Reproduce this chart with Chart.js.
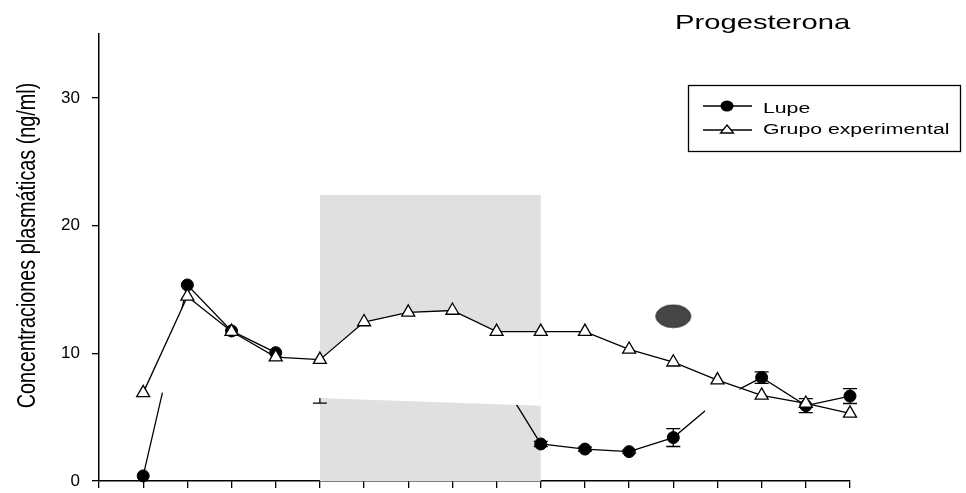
<!DOCTYPE html>
<html>
<head>
<meta charset="utf-8">
<script src="https://cdn.jsdelivr.net/npm/chart.js@4.4.1/dist/chart.umd.min.js"></script>
<style>
  body { margin: 0; background: #fff; }
  #wrap { width: 966px; height: 493px; }
</style>
</head>
<body>
<div id="wrap"><canvas id="progChart" width="966" height="493"></canvas></div>
<script>
// dias de muestreo (eje x sin etiquetas)
const dias = [1, 2, 3, 4, 5, 6, 7, 8, 9, 10, 11, 12, 13, 14, 15, 16, 17];
const grupo = [6.9, 14.45, 11.7, 9.7, 9.5, 12.45, 13.2, 13.35, 11.7, 11.7, 11.7, 10.3, 9.3, 7.9, 6.7, 6.07, 5.3];
const lupe = [0.4, 15.35, 11.75, 10.05, 7.2, null, null, null, 8.5, 2.9, 2.5, 2.3, 3.4, 6.3, 8.1, 5.9, 6.65];
const lupeErr = [0, 0, 0, 0, 1.1, 0, 0, 0, 0, 0.2, 0.15, 0.12, 0.7, 0, 0.45, 0.55, 0.58];
const lupeBorrados = [5, 9, 14];      // dias cuyo punto esta tapado en la figura
const yTicks = [0, 10, 20, 30];
const sombraX = [5, 10];
const sombraY = [0, 22.4];
// zonas tapadas en blanco: desde / hasta (dia) y borde inferior (ng/ml)
const borradoDesde = [1.2, 13.72];
const borradoHasta = [10, 14.5];
const borradoBase = [[6.95, 5.9], [0, 0]];
const marca = [{ x: 13, y: 12.9 }];

const FONT = '"Liberation Sans", Arial, sans-serif';
Chart.defaults.font.family = FONT;
Chart.defaults.color = '#000';

function interp(vals, x) {
  const i = Math.floor(x);
  const t = x - i;
  const a = vals[dias.indexOf(i)];
  if (t === 0) return a;
  const b = vals[dias.indexOf(i + 1)];
  return a + (b - a) * t;
}

function erasePath(chart) {
  const sx = chart.scales.x, sy = chart.scales.y;
  const p = new Path2D();
  p.rect(0, 0, chart.width, chart.height);
  borradoDesde.forEach(function (d, k) {
    const h = borradoHasta[k];
    const xs = [d].concat(dias.filter(v => v > d && v < h), [h]);
    const pts = xs.map(x => [sx.getPixelForValue(x), sy.getPixelForValue(interp(grupo, x))]);
    pts.push([sx.getPixelForValue(h), sy.getPixelForValue(borradoBase[k][1])]);
    pts.push([sx.getPixelForValue(d), sy.getPixelForValue(borradoBase[k][0])]);
    p.moveTo(pts[0][0], pts[0][1]);
    pts.slice(1).forEach(q => p.lineTo(q[0], q[1]));
    p.closePath();
  });
  return p;
}

// marca eliptica oscura
const elipse = document.createElement('canvas');
elipse.width = 38; elipse.height = 25;
(function () {
  const c = elipse.getContext('2d');
  c.beginPath();
  c.ellipse(19, 12.5, 17.5, 11.3, 0, 0, Math.PI * 2);
  c.fillStyle = '#464646';
  c.fill();
  c.lineWidth = 1;
  c.strokeStyle = '#2b2b2b';
  c.stroke();
})();

const LUPE_LINE = 2;

const figura = {
  id: 'figura',
  beforeDatasetsDraw(chart) {
    const ctx = chart.ctx, sx = chart.scales.x, sy = chart.scales.y;
    ctx.save();
    ctx.clip(erasePath(chart), 'evenodd');
    ctx.fillStyle = '#e0e0e0';
    const x0 = sx.getPixelForValue(sombraX[0]), x1 = sx.getPixelForValue(sombraX[1]);
    const y0 = sy.getPixelForValue(sombraY[0]), y1 = sy.getPixelForValue(sombraY[1]);
    ctx.fillRect(x0, y1, x1 - x0, y0 - y1);
    ctx.restore();
  },
  beforeDatasetDraw(chart, args) {
    if (args.index !== LUPE_LINE) return;
    chart.ctx.save();
    chart.ctx.clip(erasePath(chart), 'evenodd');
  },
  afterDatasetDraw(chart, args) {
    if (args.index !== LUPE_LINE) return;
    const ctx = chart.ctx, sx = chart.scales.x, sy = chart.scales.y;
    ctx.strokeStyle = '#000';
    ctx.lineWidth = 1.3;
    dias.forEach(function (d, i) {
      if (lupe[i] === null || !lupeErr[i]) return;
      const x = sx.getPixelForValue(d);
      const yt = sy.getPixelForValue(lupe[i] + lupeErr[i]);
      const yb = sy.getPixelForValue(lupe[i] - lupeErr[i]);
      ctx.beginPath();
      ctx.moveTo(x, yt); ctx.lineTo(x, yb);
      ctx.moveTo(x - 7, yt); ctx.lineTo(x + 7, yt);
      ctx.moveTo(x - 7, yb); ctx.lineTo(x + 7, yb);
      ctx.stroke();
    });
    ctx.restore();
  },
  afterDraw(chart) {
    const ctx = chart.ctx;
    ctx.save();
    ctx.fillStyle = '#000';
    ctx.strokeStyle = '#000';
    // titulo
    ctx.font = '21px ' + FONT;
    ctx.textBaseline = 'alphabetic';
    ctx.save();
    ctx.translate(675, 29);
    ctx.scale(1.39, 1);
    ctx.fillText('Progesterona', 0, 0);
    ctx.restore();
    // titulo eje y
    ctx.save();
    ctx.font = '19.8px ' + FONT;
    ctx.translate(35, 245.5);
    ctx.rotate(-Math.PI / 2);
    ctx.scale(1, 1.27);
    ctx.textAlign = 'center';
    ctx.fillText('Concentraciones plasmáticas (ng/ml)', 0, 0);
    ctx.restore();
    // leyenda
    ctx.lineWidth = 1.3;
    ctx.strokeRect(688.5, 85.5, 272, 66);
    ctx.beginPath();
    ctx.moveTo(703, 106); ctx.lineTo(752, 106);
    ctx.moveTo(703, 130); ctx.lineTo(752, 130);
    ctx.stroke();
    ctx.beginPath();
    ctx.ellipse(727, 106, 6.5, 5.5, 0, 0, Math.PI * 2);
    ctx.fill();
    ctx.beginPath();
    ctx.moveTo(727, 125); ctx.lineTo(733.5, 133); ctx.lineTo(720.5, 133); ctx.closePath();
    ctx.fillStyle = '#fff';
    ctx.fill();
    ctx.stroke();
    ctx.fillStyle = '#000';
    ctx.font = '15.5px ' + FONT;
    [['Lupe', 113], ['Grupo experimental', 134]].forEach(function (r) {
      ctx.save();
      ctx.translate(763, r[1]);
      ctx.scale(1.37, 1);
      ctx.fillText(r[0], 0, 0);
      ctx.restore();
    });
    ctx.restore();
  }
};

new Chart(document.getElementById('progChart'), {
  type: 'line',
  data: {
    datasets: [
      {
        label: 'Grupo experimental',
        data: dias.map((d, i) => ({ x: d, y: grupo[i] })),
        borderColor: '#000',
        borderWidth: 1.3,
        pointStyle: 'triangle',
        pointRadius: 7.5,
        pointBackgroundColor: '#fff',
        pointBorderColor: '#000',
        pointBorderWidth: 1.3,
        clip: false
      },
      {
        label: 'Lupe',
        data: dias.map((d, i) => ({ x: d, y: lupeBorrados.includes(d) ? null : lupe[i] })),
        showLine: false,
        pointStyle: 'circle',
        pointRadius: 6,
        pointBackgroundColor: '#000',
        pointBorderColor: '#000',
        pointBorderWidth: 1,
        clip: false
      },
      {
        label: 'Lupe (linea)',
        data: dias.map((d, i) => ({ x: d, y: lupe[i] })),
        borderColor: '#000',
        borderWidth: 1.3,
        pointRadius: 0,
        spanGaps: false,
        clip: false
      },
      {
        label: 'marca',
        data: marca,
        showLine: false,
        pointStyle: elipse,
        pointRadius: 18,
        clip: false
      }
    ]
  },
  options: {
    responsive: false,
    animation: false,
    events: [],
    layout: { autoPadding: false, padding: { top: 34, right: 116, left: 0, bottom: 0 } },
    plugins: {
      legend: { display: false },
      tooltip: { enabled: false },
      title: { display: false }
    },
    scales: {
      x: {
        type: 'linear',
        min: 0,
        max: 17,
        ticks: { stepSize: 1, display: false },
        grid: { drawOnChartArea: false, tickLength: 7, color: '#000', lineWidth: 1.3 },
        border: { color: '#000', width: 1.5 },
        afterFit: s => { s.height = 12; s.paddingLeft = 0; s.paddingRight = 0; }
      },
      y: {
        min: 0,
        max: 35,
        afterBuildTicks: s => { s.ticks = yTicks.map(v => ({ value: v })); },
        ticks: { padding: 12, font: { size: 17 }, color: '#000' },
        grid: { drawOnChartArea: false, tickLength: 7, color: '#000', lineWidth: 1.3 },
        border: { color: '#000', width: 1.5 },
        afterFit: s => { s.width = 99; s.paddingTop = 0; s.paddingBottom = 0; }
      }
    }
  },
  plugins: [figura]
});
</script>
</body>
</html>
